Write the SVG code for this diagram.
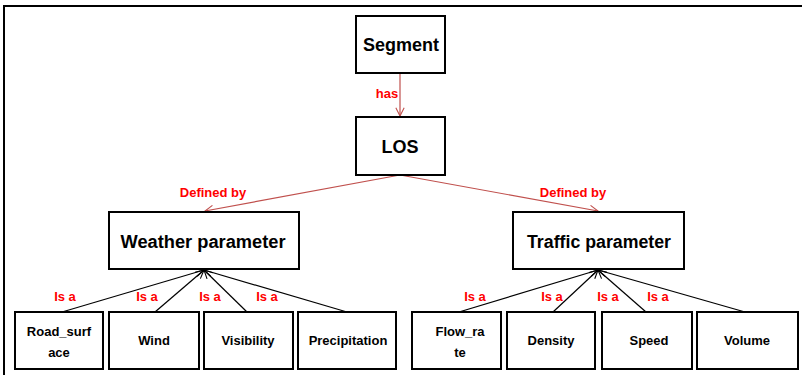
<svg xmlns="http://www.w3.org/2000/svg" width="805" height="375" viewBox="0 0 805 375">
  <defs>
    <marker id="openRed" viewBox="0 0 12 12" refX="11" refY="6" markerWidth="10" markerHeight="10" markerUnits="userSpaceOnUse" orient="auto">
      <path d="M1,1 L11,6 L1,11" fill="none" stroke="#C0504D" stroke-width="1.3"/>
    </marker>
    <marker id="openBlack" viewBox="0 0 12 12" refX="11" refY="6" markerWidth="10" markerHeight="10" markerUnits="userSpaceOnUse" orient="auto">
      <path d="M1,1 L11,6 L1,11" fill="none" stroke="#000" stroke-width="1.3"/>
    </marker>
  </defs>
  <style>
    .box { fill: #fff; stroke: #000; stroke-width: 2; }
    .big { font-family: "Liberation Sans", Arial, sans-serif; font-weight: bold; font-size: 18px; fill: #000; text-anchor: middle; }
    .small { font-family: "Liberation Sans", Arial, sans-serif; font-weight: bold; font-size: 13px; fill: #000; text-anchor: middle; }
    .lbl { font-family: "Liberation Sans", Arial, sans-serif; font-weight: bold; font-size: 13px; fill: #FF0000; text-anchor: middle; }
    .rel { stroke: #C0504D; stroke-width: 1.2; fill: none; marker-end: url(#openRed); }
    .isa { stroke: #000; stroke-width: 1.2; fill: none; marker-end: url(#openBlack); }
    .frame { stroke: #000; stroke-width: 2; fill: none; }
  </style>

  <rect width="805" height="375" fill="#fff"/>
  <!-- outer frame: top and left edges -->
  <path class="frame" d="M4,375 L4,6 L802,6"/>

  <!-- connectors -->
  <g id="connectors">
    <line class="rel" x1="400" y1="73" x2="400" y2="116"/>
    <line class="rel" x1="400" y1="175" x2="205" y2="211"/>
    <line class="rel" x1="400" y1="175" x2="598" y2="211"/>

    <line class="isa" x1="62" y1="312" x2="204" y2="270"/>
    <line class="isa" x1="155" y1="312" x2="204" y2="270"/>
    <line class="isa" x1="247" y1="312" x2="204" y2="270"/>
    <line class="isa" x1="347" y1="312" x2="204" y2="270"/>

    <line class="isa" x1="459" y1="312" x2="598" y2="270"/>
    <line class="isa" x1="553" y1="312" x2="598" y2="270"/>
    <line class="isa" x1="646" y1="312" x2="598" y2="270"/>
    <line class="isa" x1="745" y1="312" x2="598" y2="270"/>

    <text class="lbl" x="387" y="98">has</text>
    <text class="lbl" x="213" y="197">Defined by</text>
    <text class="lbl" x="573" y="197">Defined by</text>

    <text class="lbl" x="65" y="301">Is a</text>
    <text class="lbl" x="147" y="301">Is a</text>
    <text class="lbl" x="210" y="301">Is a</text>
    <text class="lbl" x="267" y="301">Is a</text>
    <text class="lbl" x="475" y="301">Is a</text>
    <text class="lbl" x="552" y="301">Is a</text>
    <text class="lbl" x="608" y="301">Is a</text>
    <text class="lbl" x="658" y="301">Is a</text>
  </g>

  <!-- nodes -->
  <g id="segment">
    <rect class="box" x="356" y="16" width="89" height="57"/>
    <text class="big" x="401" y="51">Segment</text>
  </g>
  <g id="los">
    <rect class="box" x="356" y="117" width="89" height="58"/>
    <text class="big" x="400" y="153">LOS</text>
  </g>
  <g id="weather">
    <rect class="box" x="109" y="212" width="190" height="57"/>
    <text class="big" x="203" y="248" textLength="165" lengthAdjust="spacingAndGlyphs">Weather parameter</text>
  </g>
  <g id="traffic">
    <rect class="box" x="513" y="212" width="171" height="57"/>
    <text class="big" x="599" y="248" textLength="144" lengthAdjust="spacingAndGlyphs">Traffic parameter</text>
  </g>

  <g id="road_surface">
    <rect class="box" x="15" y="312" width="88" height="57"/>
    <text class="small" x="59" y="336">Road_surf</text>
    <text class="small" x="59" y="357">ace</text>
  </g>
  <g id="wind">
    <rect class="box" x="109" y="312" width="90" height="57"/>
    <text class="small" x="154" y="345">Wind</text>
  </g>
  <g id="visibility">
    <rect class="box" x="204" y="312" width="89" height="57"/>
    <text class="small" x="248" y="345">Visibility</text>
  </g>
  <g id="precipitation">
    <rect class="box" x="298" y="312" width="98" height="57"/>
    <text class="small" x="348" y="345">Precipitation</text>
  </g>

  <g id="flow_rate">
    <rect class="box" x="412" y="312" width="89" height="57"/>
    <text class="small" x="460" y="336">Flow_ra</text>
    <text class="small" x="460" y="357">te</text>
  </g>
  <g id="density">
    <rect class="box" x="507" y="312" width="88" height="57"/>
    <text class="small" x="551" y="345">Density</text>
  </g>
  <g id="speed">
    <rect class="box" x="602" y="312" width="90" height="57"/>
    <text class="small" x="649" y="345">Speed</text>
  </g>
  <g id="volume">
    <rect class="box" x="697" y="312" width="101" height="57"/>
    <text class="small" x="747" y="345">Volume</text>
  </g>
</svg>
